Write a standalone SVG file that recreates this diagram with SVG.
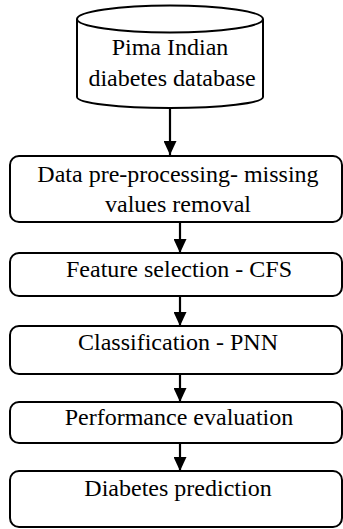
<svg xmlns="http://www.w3.org/2000/svg" width="343" height="529" viewBox="0 0 343 529">
<style>
.n{fill:#fff;stroke:#000;stroke-width:2}
.t{font-family:"Liberation Serif","Times New Roman",serif;font-size:24px;fill:#000;text-anchor:middle}
.c{stroke:#000;stroke-width:2.2;fill:none}
</style>
<defs>
<marker id="ah" viewBox="0 0 14 13" refX="14" refY="6.5" markerWidth="14" markerHeight="13" markerUnits="userSpaceOnUse" orient="auto">
<path d="M0,0 L14,6.5 L0,13 Z" fill="#000"/>
</marker>
</defs>
<g id="connectors">
<line class="c" x1="170" y1="108" x2="170" y2="155" marker-end="url(#ah)"/>
<line class="c" x1="180" y1="222" x2="180" y2="253" marker-end="url(#ah)"/>
<line class="c" x1="180" y1="296" x2="180" y2="326" marker-end="url(#ah)"/>
<line class="c" x1="180" y1="374" x2="180" y2="402" marker-end="url(#ah)"/>
<line class="c" x1="180" y1="443" x2="180" y2="471" marker-end="url(#ah)"/>
</g>
<g id="db">
<path class="n" d="M77,19 L77,97 A93,11 0 0 0 263,97 L263,19"/>
<ellipse class="n" cx="170" cy="19" rx="93" ry="13.5"/>
<text class="t" x="170" y="55">Pima Indian</text>
<text class="t" x="172" y="86">diabetes database</text>
</g>
<g id="preprocess">
<rect class="n" x="10" y="156" width="332" height="66" rx="9"/>
<text class="t" x="178" y="182">Data pre-processing- missing</text>
<text class="t" x="178" y="212">values removal</text>
</g>
<g id="feature">
<rect class="n" x="10" y="253" width="332" height="43" rx="9"/>
<text class="t" x="179" y="277">Feature selection - CFS</text>
</g>
<g id="classify">
<rect class="n" x="10" y="326" width="332" height="48" rx="9"/>
<text class="t" x="178" y="350">Classification - PNN</text>
</g>
<g id="perf">
<rect class="n" x="10" y="402" width="332" height="41" rx="9"/>
<text class="t" x="179" y="425">Performance evaluation</text>
</g>
<g id="predict">
<rect class="n" x="10" y="471" width="332" height="56" rx="9"/>
<text class="t" x="178" y="496">Diabetes prediction</text>
</g>
</svg>
